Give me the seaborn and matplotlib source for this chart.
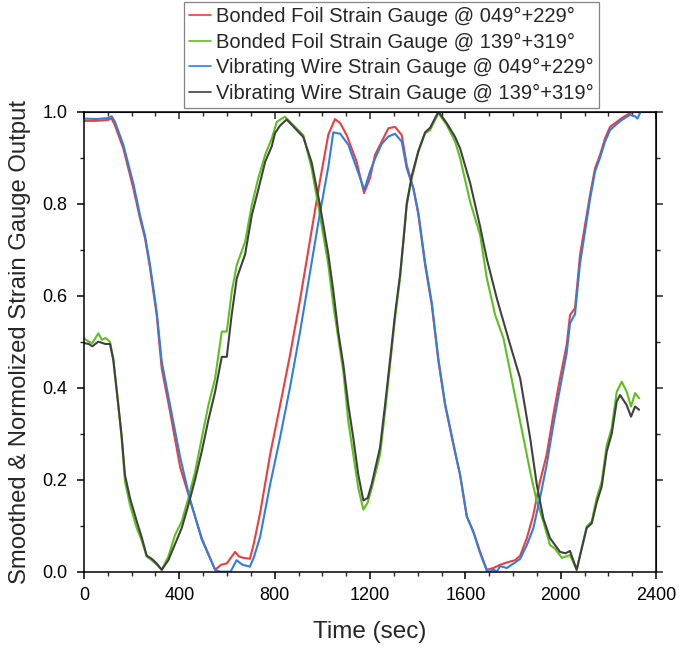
import pandas as pd
import seaborn as sns
import matplotlib.pyplot as plt
from matplotlib.ticker import MultipleLocator

# readings (time in s, normalised output)
t_bf049 = [0, 50, 100, 116, 130, 165, 207, 235, 256, 277, 305, 326, 361, 403, 445, 494, 550, 575, 599, 634, 650, 669,
           696, 712, 739, 781, 822, 864, 906, 948, 990, 1025, 1053, 1075, 1102, 1144, 1175, 1200, 1221, 1249, 1277,
           1305, 1333, 1354, 1382, 1403, 1431, 1459, 1487, 1515, 1550, 1578, 1606, 1634, 1662, 1690, 1718, 1746,
           1774, 1809, 1830, 1858, 1885, 1913, 1941, 1969, 1997, 2025, 2039, 2060, 2081, 2102, 2123, 2144, 2165,
           2186, 2207, 2228, 2256, 2291, 2312]
v_bf049 = [0.980, 0.980, 0.982, 0.985, 0.970, 0.920, 0.833, 0.768, 0.725, 0.660, 0.558, 0.442, 0.348, 0.228, 0.156,
           0.073, 0.004, 0.015, 0.018, 0.043, 0.033, 0.030, 0.028, 0.060, 0.128, 0.255, 0.360, 0.470, 0.590, 0.720,
           0.850, 0.950, 0.984, 0.975, 0.949, 0.891, 0.823, 0.856, 0.906, 0.935, 0.964, 0.967, 0.949, 0.884, 0.833,
           0.775, 0.667, 0.580, 0.457, 0.362, 0.275, 0.210, 0.120, 0.087, 0.043, 0.004, 0.008, 0.015, 0.020, 0.025,
           0.035, 0.073, 0.123, 0.196, 0.254, 0.341, 0.420, 0.493, 0.558, 0.573, 0.688, 0.754, 0.819, 0.877, 0.906,
           0.942, 0.967, 0.975, 0.986, 0.997, 1.000]

t_bf139 = [0, 20, 35, 60, 75, 90, 109, 123, 144, 158, 172, 193, 221, 242, 263, 284, 305, 326, 354, 382, 410, 438, 466,
           494, 522, 550, 578, 599, 620, 641, 676, 704, 731, 760, 788, 809, 843, 878, 920, 955, 990, 1025, 1046,
           1067, 1088, 1109, 1130, 1151, 1172, 1190, 1207, 1242, 1263, 1284, 1305, 1326, 1340, 1354, 1375, 1403,
           1431, 1452, 1487, 1522, 1557, 1578, 1620, 1662, 1690, 1725, 1760, 1788, 1816, 1844, 1872, 1900, 1927,
           1955, 1976, 2005, 2039, 2067, 2088, 2109, 2130, 2151, 2172, 2193, 2214, 2235, 2256, 2277, 2295, 2312, 2329]
v_bf139 = [0.507, 0.500, 0.497, 0.518, 0.504, 0.508, 0.500, 0.464, 0.362, 0.290, 0.196, 0.145, 0.095, 0.068, 0.033,
           0.025, 0.015, 0.004, 0.033, 0.080, 0.109, 0.160, 0.217, 0.290, 0.362, 0.420, 0.522, 0.522, 0.609, 0.667,
           0.717, 0.797, 0.855, 0.906, 0.942, 0.978, 0.989, 0.971, 0.949, 0.877, 0.775, 0.667, 0.580, 0.507, 0.435,
           0.326, 0.254, 0.181, 0.135, 0.150, 0.181, 0.254, 0.348, 0.449, 0.551, 0.638, 0.717, 0.797, 0.855, 0.913,
           0.953, 0.960, 0.997, 0.971, 0.935, 0.899, 0.804, 0.732, 0.638, 0.558, 0.507, 0.435, 0.362, 0.290, 0.217,
           0.152, 0.109, 0.058, 0.050, 0.030, 0.036, 0.004, 0.051, 0.098, 0.109, 0.160, 0.196, 0.275, 0.312, 0.391,
           0.413, 0.391, 0.359, 0.388, 0.377]

t_vw049 = [0, 50, 100, 116, 130, 165, 207, 235, 256, 277, 305, 326, 361, 403, 445, 494, 550, 570, 615, 640, 665, 696,
           712, 739, 781, 822, 864, 906, 948, 990, 1025, 1046, 1075, 1109, 1144, 1176, 1200, 1221, 1249, 1277, 1305,
           1333, 1354, 1382, 1403, 1431, 1459, 1487, 1515, 1550, 1578, 1606, 1634, 1662, 1690, 1705, 1718, 1732,
           1746, 1774, 1809, 1830, 1858, 1885, 1913, 1941, 1969, 1997, 2025, 2039, 2060, 2081, 2102, 2123, 2144,
           2165, 2186, 2207, 2228, 2256, 2291, 2312, 2322, 2335]
v_vw049 = [0.985, 0.984, 0.986, 0.990, 0.978, 0.928, 0.844, 0.775, 0.730, 0.667, 0.565, 0.457, 0.362, 0.250, 0.156,
           0.070, 0.004, 0.000, 0.000, 0.025, 0.015, 0.011, 0.030, 0.076, 0.190, 0.290, 0.400, 0.520, 0.650, 0.780,
           0.880, 0.955, 0.952, 0.928, 0.877, 0.830, 0.870, 0.898, 0.930, 0.946, 0.952, 0.935, 0.877, 0.833, 0.780,
           0.672, 0.585, 0.462, 0.365, 0.278, 0.210, 0.120, 0.085, 0.040, 0.002, 0.000, 0.005, 0.000, 0.012, 0.008,
           0.020, 0.028, 0.058, 0.094, 0.160, 0.232, 0.319, 0.399, 0.475, 0.540, 0.560, 0.670, 0.740, 0.810, 0.870,
           0.900, 0.935, 0.960, 0.970, 0.982, 0.993, 0.990, 0.985, 1.000]

t_vw139 = [0, 20, 35, 60, 90, 109, 123, 144, 158, 172, 193, 221, 242, 263, 284, 305, 326, 354, 382, 410, 438, 466, 494,
           522, 550, 578, 599, 620, 641, 676, 704, 731, 760, 788, 801, 823, 850, 878, 920, 955, 990, 1025, 1046, 1067,
           1088, 1109, 1130, 1151, 1172, 1190, 1207, 1242, 1263, 1284, 1305, 1326, 1340, 1354, 1375, 1403, 1431,
           1452, 1487, 1522, 1557, 1578, 1620, 1662, 1690, 1732, 1788, 1830, 1872, 1900, 1927, 1955, 1997, 2020,
           2039, 2067, 2088, 2109, 2130, 2151, 2172, 2193, 2214, 2235, 2249, 2277, 2295, 2312, 2329]
v_vw139 = [0.497, 0.495, 0.490, 0.500, 0.495, 0.495, 0.460, 0.362, 0.295, 0.210, 0.160, 0.110, 0.075, 0.035, 0.028,
           0.018, 0.004, 0.025, 0.060, 0.095, 0.145, 0.200, 0.261, 0.330, 0.391, 0.467, 0.467, 0.560, 0.638, 0.690,
           0.775, 0.830, 0.891, 0.925, 0.953, 0.970, 0.983, 0.968, 0.945, 0.890, 0.797, 0.690, 0.610, 0.520, 0.450,
           0.362, 0.290, 0.210, 0.155, 0.160, 0.190, 0.270, 0.362, 0.460, 0.560, 0.645, 0.720, 0.800, 0.860, 0.915,
           0.955, 0.965, 1.000, 0.975, 0.945, 0.920, 0.845, 0.750, 0.680, 0.594, 0.493, 0.420, 0.290, 0.188, 0.116,
           0.073, 0.043, 0.040, 0.045, 0.004, 0.050, 0.095, 0.105, 0.150, 0.185, 0.261, 0.300, 0.370, 0.384, 0.362,
           0.337, 0.359, 0.352]

labels = ["Bonded Foil Strain Gauge @ 049°+229°",
          "Bonded Foil Strain Gauge @ 139°+319°",
          "Vibrating Wire Strain Gauge @ 049°+229°",
          "Vibrating Wire Strain Gauge @ 139°+319°"]
colors = ["#f03c3c", "#5fbf1c", "#2f7fe0", "#404040"]

series = [(t_bf049, v_bf049), (t_bf139, v_bf139), (t_vw049, v_vw049), (t_vw139, v_vw139)]
frames = []
for lab, (t, v) in zip(labels, series):
    frames.append(pd.DataFrame({"Time": t, "Output": v, "Gauge": lab}))
df = pd.concat(frames, ignore_index=True)

sns.set_style("ticks")
plt.rcParams['font.family'] = ['Liberation Sans', 'DejaVu Sans']

fig = plt.figure(figsize=(6.79, 6.52), dpi=100)
ax = fig.add_axes([0.1237, 0.1232, 0.8425, 0.7055])

sns.lineplot(data=df, x="Time", y="Output", hue="Gauge", hue_order=labels,
             palette=dict(zip(labels, colors)), sort=False, estimator=None,
             linewidth=1.5, ax=ax)
for ln in ax.get_lines():
    ln.set_solid_joinstyle("round")

ax.set_xlim(0, 2400)
ax.set_ylim(0, 1.0)
ax.xaxis.set_major_locator(MultipleLocator(400))
ax.xaxis.set_minor_locator(MultipleLocator(100))
ax.yaxis.set_major_locator(MultipleLocator(0.2))
ax.yaxis.set_minor_locator(MultipleLocator(0.1))
ax.yaxis.set_major_formatter(lambda v, p: f"{v:.1f}")

for s in ax.spines.values():
    s.set_visible(True)
    s.set_linewidth(1.1)
    s.set_color("black")

ax.tick_params(which="major", direction="out", length=5, width=1.1, labelsize=13, colors="black")
ax.tick_params(axis="y", which="major", pad=7)
ax.tick_params(axis="x", which="major", pad=6)
ax.tick_params(which="minor", direction="out", length=3, width=1.0)

# mirrored ticks on top (inward) and right (outward), no labels
top = ax.secondary_xaxis("top")
top.xaxis.set_major_locator(MultipleLocator(400))
top.xaxis.set_minor_locator(MultipleLocator(100))
top.tick_params(which="major", direction="in", length=5, width=1.1, labeltop=False)
top.tick_params(which="minor", direction="in", length=3, width=1.0)
right = ax.secondary_yaxis("right")
right.yaxis.set_major_locator(MultipleLocator(0.2))
right.yaxis.set_minor_locator(MultipleLocator(0.1))
right.tick_params(which="major", direction="out", length=5, width=1.1, labelright=False)
right.tick_params(which="minor", direction="out", length=3, width=1.0)

ax.set_xlabel("Time (sec)", fontsize=17.5, labelpad=12)
ax.set_ylabel("Smoothed & Normolized Strain Gauge Output", fontsize=17.2, labelpad=8)

leg = ax.legend(loc="upper left", bbox_to_anchor=(0.271, 0.997), bbox_transform=fig.transFigure,
                fontsize=14.5, frameon=True, fancybox=False, borderpad=0.25, labelspacing=0.32,
                handlelength=1.1, handletextpad=0.25, borderaxespad=0)
leg.get_frame().set_edgecolor("#666666")
leg.get_frame().set_linewidth(0.9)
for line in leg.get_lines():
    line.set_linewidth(1.2)

fig.savefig("out.png", dpi=100)
